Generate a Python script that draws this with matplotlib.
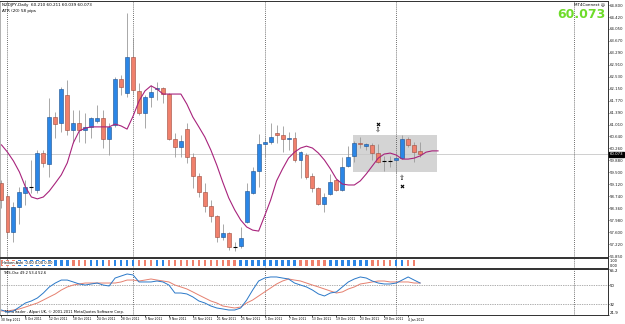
import matplotlib
matplotlib.use("Agg")
import matplotlib.pyplot as plt
from matplotlib.patches import Rectangle


# ==============================
# DATA
# ==============================

opens = [59.16, 58.75, 57.61, 58.40, 58.85, 59.04, 58.94, 60.11, 59.76, 61.25,
         61.06, 61.95, 60.84, 61.06, 60.84, 60.94, 61.13, 61.22, 60.56, 61.00,
         62.46, 62.01, 63.15, 62.08, 61.38, 61.89, 62.14, 62.17, 61.98, 60.56,
         60.30, 60.87, 59.99, 59.38, 58.88, 58.43, 58.12, 57.45, 57.58, 57.14,
         57.17, 57.93, 58.85, 59.54, 60.40, 60.46, 60.74, 60.68, 60.56, 60.59,
         59.89, 60.05, 59.38, 59.00, 58.50, 58.81, 59.26, 58.94, 59.70, 60.02,
         60.43, 60.33, 60.37, 60.11, 59.86, 59.86, 59.89, 59.95, 60.56, 60.37,
         60.18]
highs = [59.26, 58.85, 58.56, 59.04, 59.26, 59.89, 60.21, 60.21, 61.85, 61.41,
         62.20, 62.42, 61.47, 61.47, 61.38, 61.25, 61.63, 61.47, 61.06, 62.52,
         62.58, 64.55, 63.75, 62.33, 61.95, 62.27, 62.36, 62.20, 62.01, 60.74,
         60.68, 61.06, 60.11, 59.48, 59.16, 58.62, 58.15, 57.86, 57.60, 57.29,
         57.77, 59.16, 59.67, 60.71, 60.62, 61.06, 61.00, 60.97, 60.78, 60.78,
         60.18, 60.11, 59.48, 59.04, 58.85, 59.45, 59.29, 59.99, 60.33, 60.49,
         60.62, 60.43, 60.43, 60.40, 60.02, 60.02, 60.11, 60.68, 60.62, 60.46,
         60.46]
lows = [58.37, 57.42, 57.29, 57.86, 58.47, 58.85, 58.85, 59.67, 59.35, 60.59,
        60.78, 60.68, 60.43, 60.46, 60.43, 60.59, 61.06, 60.27, 60.05, 60.94,
        61.95, 61.89, 61.95, 61.32, 60.90, 61.57, 61.79, 61.70, 60.52, 59.99,
        59.99, 59.80, 59.00, 58.72, 58.24, 57.93, 57.29, 57.36, 57.04, 57.01,
        57.10, 57.90, 58.83, 59.04, 59.99, 60.40, 60.43, 60.14, 60.21, 59.83,
        59.32, 59.29, 58.88, 58.47, 58.24, 58.78, 58.91, 58.91, 59.67, 59.83,
        60.27, 60.21, 59.89, 59.80, 59.54, 59.67, 59.48, 59.92, 60.30, 59.83,
        59.99]
closes = [58.62, 57.61, 58.40, 58.88, 59.04, 59.04, 60.11, 59.80, 61.25, 61.03,
          62.14, 60.84, 61.06, 60.84, 60.94, 61.22, 61.22, 60.56, 60.94, 62.46,
          62.20, 63.15, 62.11, 61.38, 61.89, 62.04, 62.17, 61.98, 60.56, 60.30,
          60.49, 59.99, 59.38, 58.88, 58.43, 58.12, 57.45, 57.58, 57.14, 57.14,
          57.42, 58.91, 59.54, 60.40, 60.46, 60.62, 60.68, 60.56, 60.59, 59.89,
          60.14, 59.35, 59.00, 58.50, 58.72, 59.19, 58.94, 59.67, 59.99, 60.43,
          60.40, 60.40, 60.11, 59.83, 59.86, 59.86, 59.95, 60.56, 60.37, 60.14,
          60.07]

# shifted moving average (runs 3 bars past the last candle)
ma_values = [60.37, 60.14, 59.86, 59.51, 59.04, 58.72, 58.66, 58.72, 58.91, 59.16,
             59.42, 59.80, 60.43, 60.81, 60.90, 60.94, 60.94, 60.94, 60.94, 61.03,
             60.97, 60.87, 61.28, 61.76, 62.08, 62.24, 62.14, 61.98, 61.98, 61.98,
             61.98, 61.66, 61.25, 60.94, 60.62, 60.21, 59.73, 59.19, 58.69, 58.31,
             57.99, 57.77, 57.67, 57.64, 58.12, 58.62, 59.23, 59.61, 59.95, 60.14,
             60.27, 60.33, 60.27, 60.11, 59.89, 59.61, 59.29, 59.13, 59.10, 59.10,
             59.23, 59.45, 59.70, 59.95, 60.08, 60.11, 60.05, 59.92, 59.92, 59.95,
             60.02, 60.14, 60.18, 60.18]

# heiken ashi strip: b = up bar, r = down bar
ha_colors = list("rrrbbbbbbbbbrrrbbbrbbbbrrrbbrrrrrrrrrrrrbbbbbbbbbbrrrrrbbbbbbbrrrrbbrr")

osc_fast = [26.6, 24.7, 25.7, 29.4, 33.2, 35.1, 37.9, 42.6, 48.3, 52.0,
            54.8, 54.8, 53.0, 51.1, 50.1, 51.1, 52.0, 50.1, 49.2, 56.7,
            58.6, 60.5, 59.6, 53.0, 53.0, 53.0, 53.9, 53.0, 50.1, 42.6,
            42.6, 41.7, 38.9, 35.1, 33.2, 30.4, 28.5, 27.6, 26.6, 26.6,
            28.5, 36.0, 45.4, 53.9, 56.7, 57.7, 57.7, 56.7, 55.8, 52.0,
            50.1, 48.3, 45.4, 41.7, 39.8, 42.6, 43.6, 48.3, 53.0, 55.8,
            57.7, 56.7, 53.9, 52.0, 51.1, 51.1, 52.0, 54.8, 57.7, 54.8,
            52.0]
osc_slow = [25.7, 25.7, 26.6, 27.6, 29.4, 31.3, 33.2, 36.0, 38.9, 41.7,
            45.4, 48.3, 50.1, 51.1, 52.0, 52.0, 52.0, 52.0, 52.0, 52.0,
            53.0, 54.8, 54.8, 53.9, 54.8, 55.8, 54.8, 53.9, 53.0, 50.1,
            48.3, 46.4, 43.6, 40.7, 37.9, 35.1, 33.2, 30.4, 29.4, 28.5,
            29.4, 33.2, 36.0, 39.8, 43.6, 47.3, 51.1, 53.9, 55.8, 54.8,
            53.9, 52.0, 50.1, 48.3, 46.4, 44.5, 42.6, 43.6, 46.4, 48.3,
            51.1, 52.0, 53.0, 53.9, 53.9, 53.0, 53.0, 53.0, 53.0, 52.0,
            52.0]

date_labels = ["30 Sep 2011", "6 Oct 2011", "12 Oct 2011", "18 Oct 2011", "24 Oct 2011",
               "28 Oct 2011", "3 Nov 2011", "9 Nov 2011", "15 Nov 2011", "21 Nov 2011",
               "25 Nov 2011", "1 Dec 2011", "7 Dec 2011", "13 Dec 2011", "19 Dec 2011",
               "23 Dec 2011", "29 Dec 2011", "4 Jan 2012"]
date_every = 4

price_ticks = [64.800, 64.420, 64.050, 63.670, 63.290, 62.910, 62.530, 62.150, 61.770,
               61.390, 61.010, 60.640, 60.260, 59.880, 59.500, 59.120, 58.740, 58.360,
               57.980, 57.600, 57.220, 56.850]
osc_ticks = [65.2, 50, 32, 21.9]
osc_levels = [50, 32]

month_separators = [1, 22, 44, 66]
vline_bar = 95.7

last_price = 60.073
box_bars = (58.8, 72.8)
box_prices = (59.51, 60.68)
sell_mark = (63, 61.03, 60.84)   # bar, cross price, arrow price
buy_mark = (67, 59.07, 59.32)

BULL = "#2b86e6"
BEAR = "#f0806c"


# ==============================
# LAYOUT
# ==============================

W, H = 625, 324
fig = plt.figure(figsize=(W / 100, H / 100), dpi=100)
fig.patch.set_facecolor("white")


def px_axes(x0, y0, x1, y1):
    return fig.add_axes([x0 / W, 1 - y1 / H, (x1 - x0) / W, (y1 - y0) / H])


ax = px_axes(0, 1, 608, 257)
ax_ha = px_axes(0, 258, 608, 268)
ax_osc = px_axes(0, 269, 608, 315)

xlim = (-0.25, 101.42)
for a in (ax, ax_ha, ax_osc):
    a.set_xlim(*xlim)
    a.set_facecolor("white")
    for s in a.spines.values():
        s.set_color("#303030")
        s.set_linewidth(0.7)
    a.spines["left"].set_color("#b0b0b0")
    a.tick_params(axis="x", bottom=False, labelbottom=False)
    for b in month_separators + [vline_bar]:
        a.axvline(b, color="#404040", lw=0.6, ls=(0, (1, 1.5)), zorder=1)


# ==============================
# MAIN PANEL
# ==============================

ax.set_ylim(56.819, 64.927)
ax.add_patch(Rectangle((box_bars[0], box_prices[0]), box_bars[1] - box_bars[0],
                       box_prices[1] - box_prices[0], facecolor="#d4d4d4",
                       edgecolor="none", zorder=0.5))
ax.axhline(last_price, color="#c8c8c8", lw=0.6, zorder=0.8)

bw = 0.66
for i, (o, h, l, c) in enumerate(zip(opens, highs, lows, closes)):
    ax.vlines(i, l, h, color="#9a9a9a", lw=0.6, zorder=2)
    if abs(c - o) < 0.015:
        ax.hlines(o, i - bw / 2, i + bw / 2, color="black", lw=0.8, zorder=3)
        continue
    up = c > o
    ax.add_patch(Rectangle((i - bw / 2, min(o, c)), bw, abs(c - o),
                           facecolor=BULL if up else BEAR,
                           edgecolor="#1d4f8c" if up else "#9a4a3c",
                           lw=0.4, zorder=3))

ax.plot(range(len(ma_values)), ma_values, color="#a8237c", lw=0.8, zorder=4)

ax.scatter([sell_mark[0]], [sell_mark[1]], marker="x", s=5, color="black", lw=0.8, zorder=5)
ax.text(sell_mark[0], sell_mark[2], "\u21e9", ha="center", va="center", fontsize=5, zorder=5)
ax.scatter([buy_mark[0]], [buy_mark[1]], marker="x", s=5, color="black", lw=0.8, zorder=5)
ax.text(buy_mark[0], buy_mark[2], "\u21e7", ha="center", va="center", fontsize=5, zorder=5)

ax.yaxis.tick_right()
ax.set_yticks(price_ticks)
ax.set_yticklabels([f"{p:.3f}" for p in price_ticks])
ax.tick_params(axis="y", labelsize=2.8, length=1.0, width=0.5, pad=0.4, colors="#202020")

ax.annotate(f"{last_price:.3f}", xy=(1.0, last_price), xycoords=("axes fraction", "data"),
            xytext=(1.2, 0), textcoords="offset points", ha="left", va="center",
            fontsize=2.8, color="white",
            bbox=dict(boxstyle="square,pad=0.15", fc="black", ec="black"))

ax.text(2 / 608, 1 - 2 / 256, "NZDJPY,Daily  60.210 60.211 60.039 60.073",
        transform=ax.transAxes, fontsize=3.0, va="top", ha="left")
ax.text(2 / 608, 1 - 8 / 256, "ATR (20) 58 pips",
        transform=ax.transAxes, fontsize=3.0, va="top", ha="left")
ax.text(1 - 3 / 608, 1 - 1 / 256, "MT4Connect \u263a",
        transform=ax.transAxes, fontsize=3.0, va="top", ha="right")
ax.text(1 - 2 / 608, 1 - 14 / 256, f"{last_price:.3f}",
        transform=ax.transAxes, fontsize=9, fontweight="bold", color="#6edc2a",
        va="center", ha="right")


# ==============================
# HEIKEN ASHI STRIP
# ==============================

ax_ha.set_ylim(-0.4, 1.4)
ax_ha.bar(range(len(ha_colors)), [1] * len(ha_colors), bottom=0, width=0.42,
          color=[BULL if c == "b" else BEAR for c in ha_colors], zorder=2)
ax_ha.yaxis.tick_right()
ax_ha.set_yticks([1, 0])
ax_ha.set_yticklabels(["1.00", "0.00"])
ax_ha.tick_params(axis="y", labelsize=2.5, length=0, pad=1.0)
ax_ha.text(2 / 608, 0.5, "Heiken Ashi  0.00 0.00 0.00", transform=ax_ha.transAxes,
           fontsize=2.6, va="center", ha="left", zorder=5,
           bbox=dict(boxstyle="square,pad=0.1", fc="white", ec="none"))


# ==============================
# OSCILLATOR
# ==============================

ax_osc.set_ylim(21.9, 65.2)
for lv in osc_levels:
    ax_osc.axhline(lv, color="#606060", lw=0.5, ls=(0, (1, 1.5)), zorder=1)
ax_osc.plot(range(len(osc_slow)), osc_slow, color="#e5806f", lw=0.7, zorder=3)
ax_osc.plot(range(len(osc_fast)), osc_fast, color="#2a78c8", lw=0.7, zorder=4)

ax_osc.yaxis.tick_right()
ax_osc.set_yticks(osc_ticks)
ax_osc.set_yticklabels([str(t) for t in osc_ticks])
ax_osc.tick_params(axis="y", labelsize=2.8, length=1.0, width=0.5, pad=0.5)
ylabels = ax_osc.get_yticklabels()
ylabels[0].set_va("top")
ylabels[-1].set_va("bottom")

ax_osc.text(3 / 608, 1 - 2 / 46, "TMS-Osc 49.2 53.4 52.6", transform=ax_osc.transAxes,
            fontsize=2.6, va="top", ha="left")
ax_osc.text(5 / 608, 1 / 46, "MetaTrader - Alpari UK, \u00a9 2001-2011 MetaQuotes Software Corp.",
            transform=ax_osc.transAxes, fontsize=2.6, va="bottom", ha="left")

ax_osc.set_xticks([i * date_every for i in range(len(date_labels))])
ax_osc.set_xticklabels(date_labels)
ax_osc.tick_params(axis="x", bottom=True, labelbottom=True, labelsize=2.2,
                   length=1.2, width=0.5, pad=0.6)
for lbl in ax_osc.get_xticklabels():
    lbl.set_ha("left")

fig.savefig("out.png", dpi=100, facecolor="white")
